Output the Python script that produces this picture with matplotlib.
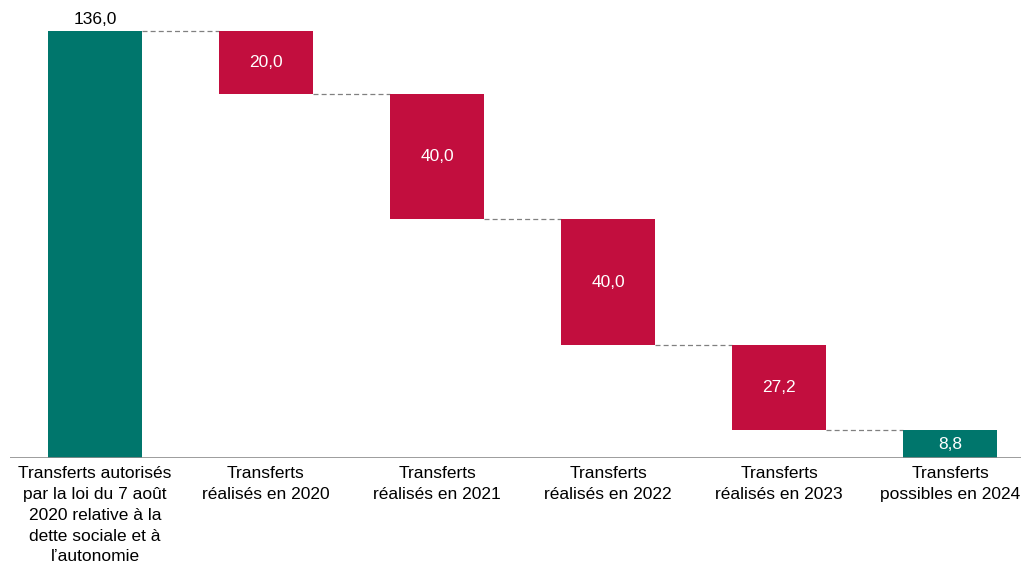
import numpy as np
import matplotlib.pyplot as plt

plt.rcParams['font.family'] = ['Liberation Sans', 'DejaVu Sans']

labels = ['Transferts autorisés\npar la loi du 7 août\n2020 relative à la\ndette sociale et à\nl\u2019autonomie',
          'Transferts\nréalisés en 2020',
          'Transferts\nréalisés en 2021',
          'Transferts\nréalisés en 2022',
          'Transferts\nréalisés en 2023',
          'Transferts\npossibles en 2024']
values = [136.0, -20.0, -40.0, -40.0, -27.2, 8.8]
kinds = ['total', 'step', 'step', 'step', 'step', 'total']

teal = '#00766C'
red = '#C20E3E'

fig = plt.figure(figsize=(10.21, 5.65), dpi=100)
ax = fig.add_axes([10 / 1021, 107 / 565, 1011 / 1021, 458 / 565])

x = np.arange(len(values))
w = 0.555
level = 0
tops = []
for i, (v, k) in enumerate(zip(values, kinds)):
    if k == 'total':
        bottom, h = 0, v
        level = v
        col = teal
    else:
        bottom, h = level + v, -v
        level = level + v
        col = red
    ax.bar(x[i], h, bottom=bottom, width=w, color=col, zorder=2)
    txt = f'{abs(v):.1f}'.replace('.', ',')
    if i == 0:
        ax.text(x[i], bottom + h + 1.2, txt, ha='center', va='bottom', fontsize=12.5, color='black')
    else:
        ax.text(x[i], bottom + h / 2, txt, ha='center', va='center', fontsize=12.5, color='white')
    tops.append(level)

# connectors
for i in range(len(values) - 1):
    ax.plot([x[i] + w / 2, x[i + 1] - w / 2], [tops[i], tops[i]],
            ls=(0, (4, 2.5)), color='#808080', lw=0.9, zorder=1)

ax.axhline(0, color='#8c8c8c', lw=1.2, zorder=3)
ax.set_xlim(-0.497, 5.415)
ax.set_ylim(0, 145.9)
ax.set_xticks(x)
ax.set_xticklabels(labels, fontsize=12.5, linespacing=1.48)
ax.tick_params(axis='x', length=0, pad=6)
ax.set_yticks([])
for s in ax.spines.values():
    s.set_visible(False)

fig.savefig('out.png', dpi=100)
